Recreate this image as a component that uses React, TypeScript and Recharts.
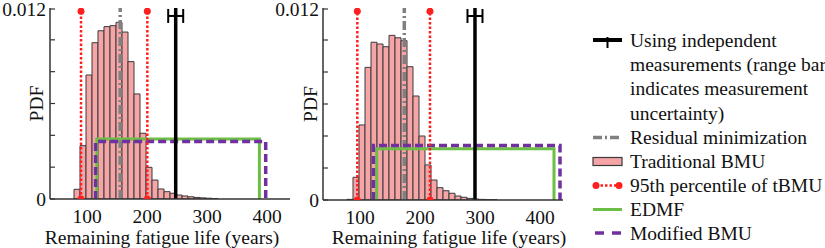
import React from 'react'
import { ComposedChart, Line, Scatter, ErrorBar, XAxis, YAxis, ReferenceArea } from 'recharts'

// histogram bin centres (years), bins are 10 years wide
const binCenters = [83, 93, 103, 113, 123, 133, 143, 153, 163, 173, 183, 193, 203, 213, 223, 233, 243, 253, 263, 273, 283, 293, 303, 313, 323]
const binWidth = 10
const tbmuLeft = [0.00061, 0.00335, 0.00779, 0.00982, 0.01057, 0.01083, 0.01089, 0.0111, 0.01049, 0.00863, 0.0066, 0.00413, 0.00199, 0.00119, 0.00063, 0.00046, 0.00036, 0.00025, 0.00019, 0.00014, 0.0001, 0.00007, 0.00005, 0.00003, 0]
const tbmuRight = [0.00004, 0.00142, 0.00469, 0.00829, 0.00986, 0.00975, 0.00958, 0.01029, 0.01014, 0.00996, 0.00833, 0.0065, 0.004, 0.00219, 0.00125, 0.00077, 0.00058, 0.00042, 0.00025, 0.00017, 0.0001, 0.00006, 0.00004, 0.00003, 0.00002]

const xTicks = [100, 200, 300, 400]
const yTicks = [0, 0.002, 0.004, 0.006, 0.008, 0.01, 0.012]
const yLabelled = [0, 0.012]

// [left panel, right panel]
const percentileLo = [89.7, 95.2]
const percentileHi = [200.2, 216.3]
const percentileTop = 0.0118
const residual = [155, 173.5]
const measured = [247.5, 291.3]
const measuredRange = [12.5, 12.5]
const measuredBarY = 0.0115
const edmfBounds = [[116, 387], [127.5, 423]]
const edmfHeight = [0.00377, 0.0032]
const mbmuBounds = [[114, 397.5], [122, 433]]
const mbmuHeight = [0.00361, 0.0034]

const legendLabels = [
  ['Using independent', 'measurements (range bar', 'indicates measurement', 'uncertainty)'],
  ['Residual minimization'],
  ['Traditional BMU'],
  ['95th percentile of tBMU'],
  ['EDMF'],
  ['Modified BMU'],
]

const FONT = '"Liberation Serif", "DejaVu Serif", "Times New Roman", serif'
const AXIS = '#333'
const PINK = '#F6A5A7'
const RED = '#FF1F1F'
const GRAY = '#808080'
const GREEN = '#6CBE45'
const PURPLE = '#7030A0'

const vline = (x: number, top: number) => [{ x, y: 0 }, { x, y: top }]
const box = (l: number, r: number, h: number) => [{ x: l, y: 0 }, { x: l, y: h }, { x: r, y: h }, { x: r, y: 0 }]

function YTick({ x, y, payload }: any) {
  const v = payload.value
  return (
    <g>
      <line x1={x + 4} x2={x + 9} y1={y} y2={y} stroke={AXIS} strokeWidth={1.2} />
      {yLabelled.includes(v) && (
        <text x={x} y={y} dy="0.35em" textAnchor="end" fontSize={19.5} fill="#111" fontFamily={FONT}>
          {String(v)}
        </text>
      )}
    </g>
  )
}

function XTick({ x, y, payload }: any) {
  return (
    <text x={x} y={y} dy="0.71em" textAnchor="middle" fontSize={19.5} fill="#111" fontFamily={FONT}>
      {payload.value}
    </text>
  )
}

const xLabel = (shift: number) => (props: any) => {
  const vb = props.viewBox
  return (
    <text x={vb.x + vb.width / 2 + shift} y={244} textAnchor="middle" fontSize={19.5} fill="#111" fontFamily={FONT}>
      Remaining fatigue life (years)
    </text>
  )
}

const yLabel = (props: any) => {
  const vb = props.viewBox
  const cx = vb.x + vb.width / 2
  const cy = vb.y + vb.height / 2
  return (
    <text x={cx} y={cy} dy="0.35em" textAnchor="middle" fontSize={19.5} fill="#111" fontFamily={FONT} transform={`rotate(-90, ${cx}, ${cy})`}>
      PDF
    </text>
  )
}

function Panel({ idx, values, left, width, margin, yWidth, labelShift }: any) {
  return (
    <div style={{ position: 'absolute', left, top: 0 }}>
      <ComposedChart width={width} height={248} margin={margin}>
        <XAxis
          type="number"
          dataKey="x"
          domain={[38, 438]}
          ticks={xTicks}
          allowDataOverflow
          tickLine={false}
          tickSize={0}
          tickMargin={10}
          height={45}
          stroke={AXIS}
          strokeWidth={1.5}
          tick={<XTick />}
          label={xLabel(labelShift)}
        />
        <YAxis
          type="number"
          dataKey="y"
          domain={[0, 0.012]}
          ticks={yTicks}
          allowDataOverflow
          width={yWidth}
          tickLine={false}
          tickSize={0}
          tickMargin={4}
          stroke={AXIS}
          strokeWidth={1.5}
          tick={<YTick />}
          label={yLabel}
        />
        {binCenters.map((c, i) => (
          <ReferenceArea
            key={c}
            x1={c - binWidth / 2}
            x2={c + binWidth / 2}
            y1={0}
            y2={values[i]}
            fill={PINK}
            fillOpacity={1}
            stroke="#3a3a3a"
            strokeWidth={1}
            ifOverflow="hidden"
          />
        ))}
        <Line data={vline(residual[idx], 0.012)} dataKey="y" stroke={GRAY} strokeWidth={3.5} strokeDasharray="9 3 2 3" dot={false} isAnimationActive={false} />
        <Line data={box(edmfBounds[idx][0], edmfBounds[idx][1], edmfHeight[idx])} dataKey="y" stroke={GREEN} strokeWidth={3} dot={false} isAnimationActive={false} />
        <Line data={box(mbmuBounds[idx][0], mbmuBounds[idx][1], mbmuHeight[idx])} dataKey="y" stroke={PURPLE} strokeWidth={3.5} strokeDasharray="8 4" dot={false} isAnimationActive={false} />
        <Line data={vline(percentileLo[idx], percentileTop)} dataKey="y" stroke={RED} strokeWidth={2.5} strokeDasharray="2.5 2" dot={{ r: 3.5, fill: RED, strokeWidth: 0 }} isAnimationActive={false} />
        <Line data={vline(percentileHi[idx], percentileTop)} dataKey="y" stroke={RED} strokeWidth={2.5} strokeDasharray="2.5 2" dot={{ r: 3.5, fill: RED, strokeWidth: 0 }} isAnimationActive={false} />
        <Line data={vline(measured[idx], 0.0121)} dataKey="y" stroke="#000" strokeWidth={3.5} dot={false} isAnimationActive={false} />
        <Scatter data={[{ x: measured[idx], y: measuredBarY, err: measuredRange[idx] }]} shape={() => <g />} isAnimationActive={false}>
          <ErrorBar dataKey="err" direction="x" width={7} stroke="#000" strokeWidth={2} isAnimationActive={false} />
        </Scatter>
      </ComposedChart>
    </div>
  )
}

function LegendBox() {
  const ix0 = 13
  const ix1 = 42
  const tx = 50
  const baselines = [46.5, 70.8, 95, 119.5, 144, 168, 192, 216, 239.5]
  let row = 0
  const items = legendLabels.map((lines, i) => {
    const first = baselines[row]
    const texts = lines.map((t, j) => (
      <text key={j} x={tx} y={baselines[row + j]} fontSize={19.5} fill="#111" fontFamily={FONT}>{t}</text>
    ))
    row += lines.length
    const cy = first - 6.5
    let icon = null
    if (i === 0) {
      icon = (
        <g>
          <line x1={ix0} x2={ix1} y1={cy} y2={cy} stroke="#000" strokeWidth={4} />
          <line x1={(ix0 + ix1) / 2} x2={(ix0 + ix1) / 2} y1={cy - 3} y2={cy + 8} stroke="#000" strokeWidth={2} />
        </g>
      )
    } else if (i === 1) {
      icon = <line x1={ix0} x2={ix1} y1={cy} y2={cy} stroke={GRAY} strokeWidth={3.5} strokeDasharray="9 3 2 3" />
    } else if (i === 2) {
      icon = <rect x={ix0} y={cy - 4} width={ix1 - ix0} height={8} fill={PINK} stroke="#3a3a3a" strokeWidth={1.2} />
    } else if (i === 3) {
      icon = (
        <g>
          <line x1={ix0 + 3} x2={ix1 - 3} y1={cy} y2={cy} stroke={RED} strokeWidth={2.5} strokeDasharray="2.5 2" />
          <circle cx={ix0 + 3} cy={cy} r={3.5} fill={RED} />
          <circle cx={ix1 - 3} cy={cy} r={3.5} fill={RED} />
        </g>
      )
    } else if (i === 4) {
      icon = <line x1={ix0} x2={ix1} y1={cy} y2={cy} stroke={GREEN} strokeWidth={3} />
    } else {
      icon = <line x1={ix0 + 2} x2={ix1} y1={cy} y2={cy} stroke={PURPLE} strokeWidth={3.5} strokeDasharray="9 8" />
    }
    return (
      <g key={i}>
        {icon}
        {texts}
      </g>
    )
  })
  return (
    <svg width={245} height={248} style={{ position: 'absolute', left: 580, top: 0, fontFamily: FONT }}>
      {items}
    </svg>
  )
}

export default function App() {
  return (
    <div style={{ position: 'absolute', left: 0, top: 0, width: 825, height: 248, background: '#fff', fontFamily: FONT }}>
      <Panel idx={0} values={tbmuLeft} left={0} width={300} margin={{ top: 8, right: 10, bottom: 4, left: 23 }} yWidth={27} labelShift={-8} />
      <Panel idx={1} values={tbmuRight} left={260} width={320} margin={{ top: 8, right: 17, bottom: 3, left: 37 }} yWidth={26} labelShift={6} />
      <LegendBox />
    </div>
  )
}
